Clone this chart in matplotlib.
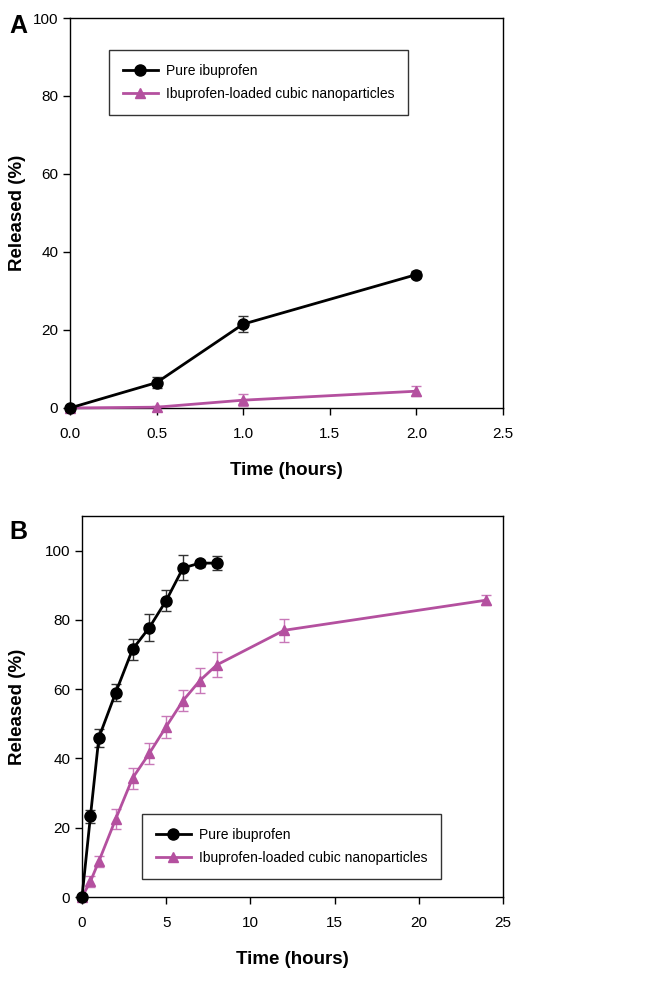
import matplotlib.pyplot as plt

plt.rcParams['font.family'] = ['Liberation Sans', 'DejaVu Sans']

# panel A data
t_a = [0, 0.5, 1.0, 2.0]
pure_a = [0, 6.5, 21.5, 34.2]
pure_a_err = [0.3, 1.5, 2.0, 1.0]
cubic_a = [0, 0.2, 2.0, 4.3]
cubic_a_err = [0.2, 0.3, 1.5, 1.3]

# panel B data
t_pure_b = [0, 0.5, 1, 2, 3, 4, 5, 6, 7, 8]
pure_b = [0, 23.3, 46.0, 59.0, 71.5, 77.8, 85.6, 95.0, 96.4, 96.4]
pure_b_err = [0.5, 1.8, 2.6, 2.5, 3.0, 3.8, 3.0, 3.6, 1.0, 2.0]
t_cubic_b = [0, 0.5, 1, 2, 3, 4, 5, 6, 7, 8, 12, 24]
cubic_b = [0, 4.5, 10.3, 22.5, 34.3, 41.5, 49.2, 56.7, 62.5, 67.0, 77.0, 85.7]
cubic_b_err = [0.3, 1.5, 1.5, 3.0, 3.0, 3.0, 3.2, 3.0, 3.6, 3.6, 3.3, 1.5]

pink = '#b4509f'
label_pure = 'Pure ibuprofen'
label_cubic = 'Ibuprofen-loaded cubic nanoparticles'

fig = plt.figure(figsize=(6.54, 9.84), dpi=100)
ax1 = fig.add_axes([0.107, 0.5854, 0.662, 0.3963])
ax2 = fig.add_axes([0.1254, 0.0884, 0.6437, 0.3872])


def draw(ax, tp, yp, ep, tc, yc, ec):
    # error bars first, then the lines with markers (legend shows only these)
    ax.errorbar(tp, yp, yerr=ep, fmt='none', capsize=3.5, elinewidth=1,
                ecolor='#333333', capthick=1, zorder=2, clip_on=False)
    ax.errorbar(tc, yc, yerr=ec, fmt='none', capsize=3.5, elinewidth=1,
                ecolor='#c878b8', capthick=1, zorder=1, clip_on=False)
    ax.plot(tc, yc, color=pink, marker='^', markersize=7, linewidth=2,
            label=label_cubic, zorder=3, clip_on=False)
    ax.plot(tp, yp, color='black', marker='o', markersize=8, linewidth=2,
            label=label_pure, zorder=4, clip_on=False)
    ax.tick_params(direction='out', length=5, labelsize=11, width=1)
    ax.tick_params(axis='x', pad=8.5)
    for s in ax.spines.values():
        s.set_linewidth(1)
    ax.set_xlabel('Time (hours)', fontsize=13.5, fontweight='bold', labelpad=15)
    pos = ax.get_position()
    fig.text(0.027, (pos.y0 + pos.y1) / 2, 'Released (%)', fontsize=13.5,
             fontweight='bold', rotation=90, ha='center', va='center')


def add_legend(ax, **kw):
    h, l = ax.get_legend_handles_labels()
    leg = ax.legend(h[::-1], l[::-1], fontsize=10, frameon=True, fancybox=False,
                    edgecolor='black', handlelength=2.5, handletextpad=0.6,
                    borderpad=1.0, labelspacing=0.65, borderaxespad=0, **kw)
    leg.get_frame().set_linewidth(1)


draw(ax1, t_a, pure_a, pure_a_err, t_a, cubic_a, cubic_a_err)
ax1.set_xlim(0, 2.5)
ax1.set_ylim(0, 100)
ax1.set_xticks([0, 0.5, 1.0, 1.5, 2.0, 2.5])
ax1.set_xticklabels(['0.0', '0.5', '1.0', '1.5', '2.0', '2.5'])
ax1.set_yticks([0, 20, 40, 60, 80, 100])
add_legend(ax1, loc='upper left', bbox_to_anchor=(0.090, 0.918))

draw(ax2, t_pure_b, pure_b, pure_b_err, t_cubic_b, cubic_b, cubic_b_err)
ax2.set_xlim(0, 25)
ax2.set_ylim(0, 110)
ax2.set_xticks([0, 5, 10, 15, 20, 25])
ax2.set_yticks([0, 20, 40, 60, 80, 100])
add_legend(ax2, loc='lower left', bbox_to_anchor=(0.1425, 0.047))

fig.text(0.015, 0.986, 'A', fontsize=18, fontweight='bold', va='top')
fig.text(0.015, 0.4715, 'B', fontsize=18, fontweight='bold', va='top')

fig.savefig('out.png', dpi=100)
